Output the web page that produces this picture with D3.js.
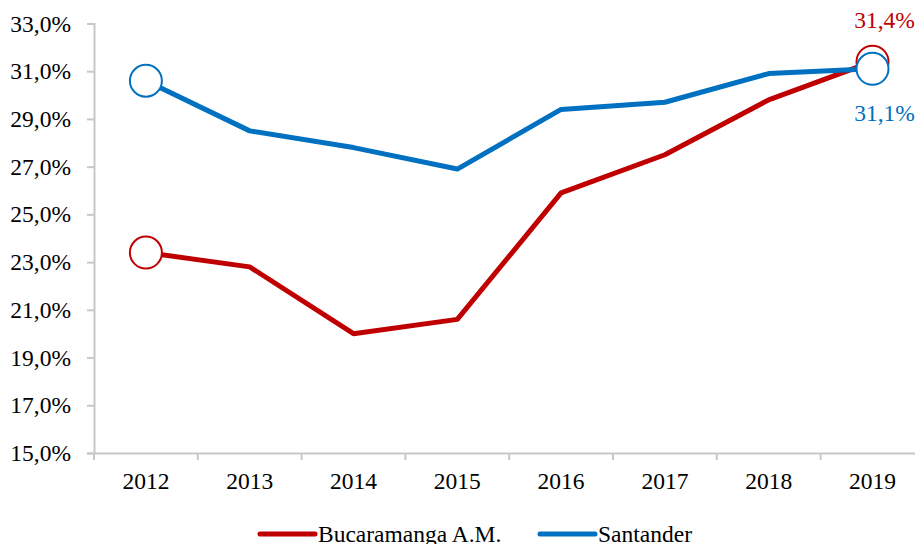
<!DOCTYPE html>
<html>
<head>
<meta charset="utf-8">
<script src="https://cdn.jsdelivr.net/npm/d3@7"></script>
<style>
  body { margin: 0; background: #fff; }
  svg { display: block; font-family: "Liberation Serif", "Times New Roman", serif; }
</style>
</head>
<body>
<div id="chart"></div>
<script>
// data
var years = ['2012', '2013', '2014', '2015', '2016', '2017', '2018', '2019'];
var bucaramanga = [23.4, 22.8, 20.0, 20.6, 25.9, 27.5, 29.8, 31.4];
var santander = [30.6, 28.5, 27.8, 26.9, 29.4, 29.7, 30.9, 31.1];
var yTicks = [15, 17, 19, 21, 23, 25, 27, 29, 31, 33];
var seriesNames = ['Bucaramanga A.M.', 'Santander'];

var width = 915, height = 544;
var margin = { top: 23.5, left: 94, bottom: 91 };
var bandStep = 103.8;
var fontSize = 23.5;

var svg = d3.select('#chart').append('svg')
	.attr('width', width).attr('height', height);

var x = d3.scaleBand()
	.domain(years)
	.range([margin.left, margin.left + bandStep * years.length]);

var y = d3.scaleLinear()
	.domain([15, 33])
	.range([height - margin.bottom, margin.top]);

var fmt = function(v) { return d3.format('.1f')(v).replace('.', ',') + '%'; };

// y axis
var yAxis = svg.append('g')
	.attr('transform', `translate(${margin.left},0)`)
	.call(d3.axisLeft(y).tickValues(yTicks).tickFormat(fmt).tickSize(7).tickPadding(16));
yAxis.selectAll('line, path').attr('stroke', '#c8c8c8').attr('stroke-width', 2);
yAxis.selectAll('text').attr('font-size', fontSize).attr('fill', '#000')
	.attr('font-family', '"Liberation Serif", serif');

// x axis
var xAxis = svg.append('g')
	.attr('transform', `translate(0,${y(15)})`)
	.call(d3.axisBottom(x).tickSize(0).tickPadding(19));
xAxis.select('path').attr('stroke', '#c8c8c8').attr('stroke-width', 2);
xAxis.selectAll('text').attr('font-size', fontSize).attr('fill', '#000')
	.attr('font-family', '"Liberation Serif", serif');
// tick marks sit on band edges
xAxis.selectAll('.edge').data(years).enter().append('line')
	.attr('x1', d => x(d)).attr('x2', d => x(d))
	.attr('y1', 0).attr('y2', 7)
	.attr('stroke', '#c8c8c8').attr('stroke-width', 2);

var cx = d => x(d) + x.bandwidth() / 2;

var series = [
	{ name: seriesNames[0], values: bucaramanga, color: '#c00000', labelDy: -34 },
	{ name: seriesNames[1], values: santander, color: '#0070c0', labelDy: 52 }
];

var line = d3.line()
	.x((d, i) => cx(years[i]))
	.y(d => y(d));

series.forEach(function(s) {
	svg.append('path')
		.datum(s.values)
		.attr('d', line)
		.attr('fill', 'none')
		.attr('stroke', s.color)
		.attr('stroke-width', 5)
		.attr('stroke-linejoin', 'round');
});

// open markers on first and last points
series.forEach(function(s) {
	var last = s.values.length - 1;
	[0, last].forEach(function(i) {
		svg.append('circle')
			.attr('cx', cx(years[i]))
			.attr('cy', y(s.values[i]))
			.attr('r', 16)
			.attr('fill', '#fff')
			.attr('stroke', s.color)
			.attr('stroke-width', 2);
	});
	svg.append('text')
		.text(fmt(s.values[last]))
		.attr('x', cx(years[last]) + 12)
		.attr('y', y(s.values[last]) + s.labelDy)
		.attr('text-anchor', 'middle')
		.attr('font-size', fontSize)
		.attr('fill', s.color);
});

// legend
var legend = svg.append('g');
var legendX = [260, 540];
series.forEach(function(s, i) {
	legend.append('line')
		.attr('x1', legendX[i]).attr('x2', legendX[i] + 55)
		.attr('y1', 534).attr('y2', 534)
		.attr('stroke', s.color).attr('stroke-width', 5)
		.attr('stroke-linecap', 'round');
	legend.append('text')
		.text(s.name)
		.attr('x', legendX[i] + 58)
		.attr('y', 542)
		.attr('font-size', fontSize)
		.attr('fill', '#000');
});
</script>
</body>
</html>
